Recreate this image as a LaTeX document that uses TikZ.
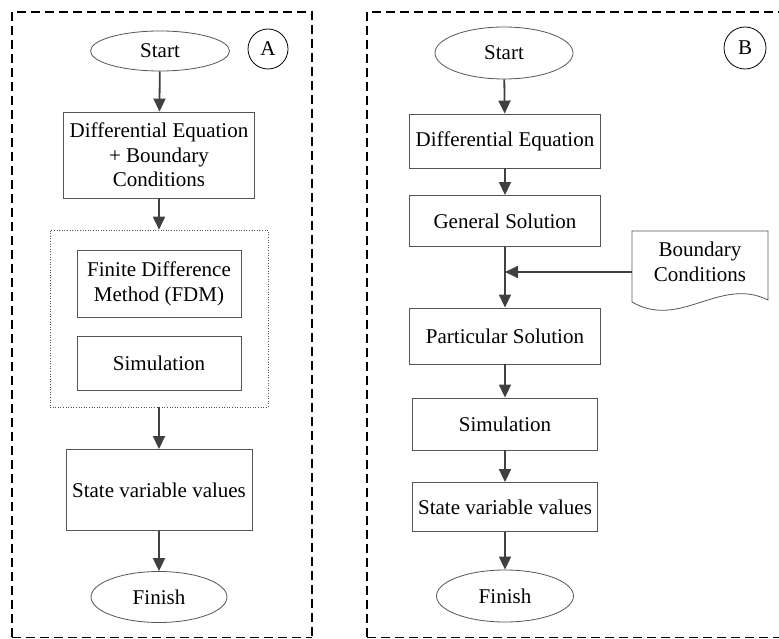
\documentclass[tikz,border=0pt]{standalone}
\usepackage{fontspec}
\setmainfont{Liberation Serif}
\usepackage{tikz}
\usetikzlibrary{arrows.meta,shapes.geometric}

\definecolor{arrowgray}{HTML}{404040}
\definecolor{boxgray}{HTML}{555555}

\tikzset{
  box/.style={draw=boxgray, line width=0.9pt, rectangle, align=center, inner sep=2pt, font=\fontsize{21}{24.5}\selectfont},
  oval/.style={draw=boxgray, line width=0.8pt, ellipse, inner sep=0pt, font=\fontsize{21}{24.5}\selectfont},
  tag/.style={draw=black, line width=0.8pt, circle, inner sep=0pt, minimum size=40pt, font=\fontsize{21}{24.5}\selectfont},
  flow/.style={draw=arrowgray, line width=1.8pt, -{Triangle[length=13pt,width=12pt]}},
  frame/.style={draw=black, line width=1.8pt, dash pattern=on 9pt off 5pt}
}

\begin{document}
\begin{tikzpicture}[x=1pt,y=-1pt]
\useasboundingbox (0,0) rectangle (779,639);

% frames
\draw[frame] (12,637) |- (312,12) -- (312,637);
\draw[frame, line width=0.9pt] (12,637) -- (312,637);
\draw[frame] (367,637) |- (781,12);
\draw[frame, line width=0.9pt] (367,637) -- (781,637);

% left chart
\node[oval, minimum width=139pt, minimum height=40pt] (startA) at (160,51) {Start};
\node[tag] (tagA) at (268,49) {A};
\node[box, minimum width=191pt, minimum height=86pt] (deqA) at (159,155) {Differential Equation\\+ Boundary\\Conditions};
\node[draw=boxgray, line width=0.6pt, dotted, minimum width=218pt, minimum height=177pt] (grp) at (159,318.5) {};
\node[box, minimum width=164pt, minimum height=67pt] (fdm) at (159,284) {Finite Difference\\Method (FDM)};
\node[box, minimum width=164pt, minimum height=54pt] (simA) at (159,363) {Simulation};
\node[box, minimum width=186pt, minimum height=81pt] (svA) at (159,490) {State variable values};
\node[oval, minimum width=136pt, minimum height=51pt] (finA) at (159,597) {Finish};

\draw[flow] (startA) -- (deqA);
\draw[flow] (deqA) -- (grp);
\draw[flow] (grp) -- (svA);
\draw[flow] (svA) -- (finA);

% right chart
\node[oval, minimum width=138pt, minimum height=52pt] (startB) at (504,53) {Start};
\node[tag, minimum size=42pt] (tagB) at (745,48) {B};
\node[box, minimum width=191pt, minimum height=54pt] (deqB) at (505,141) {Differential Equation};
\node[box, minimum width=191pt, minimum height=51pt] (genB) at (505,221) {General Solution};
\coordinate (join) at (505,272);
\node[font=\fontsize{21}{24.5}\selectfont, align=center, minimum width=136pt, minimum height=70pt, inner sep=0pt] (bc) at (700,262) {Boundary\\Conditions};
\draw[draw=boxgray, line width=0.8pt] (632,302) -- (632,231) -- (768,231) -- (768,300)
  .. controls (720,276) and (680,330) .. (632,302);
\node[box, minimum width=191pt, minimum height=56pt] (partB) at (505,336) {Particular Solution};
\node[box, minimum width=185pt, minimum height=52pt] (simB) at (505,424) {Simulation};
\node[box, minimum width=185pt, minimum height=49pt] (svB) at (505,507) {State variable values};
\node[oval, minimum width=137pt, minimum height=52pt] (finB) at (505,596) {Finish};

\draw[flow] (startB) -- (deqB);
\draw[flow] (deqB) -- (genB);
\draw[draw=arrowgray, line width=1.8pt] (genB) -- (join);
\draw[flow] (join) -- (partB);
\draw[flow] (bc.west |- join) -- (join);
\draw[flow] (partB) -- (simB);
\draw[flow] (simB) -- (svB);
\draw[flow] (svB) -- (finB);
\end{tikzpicture}
\end{document}
